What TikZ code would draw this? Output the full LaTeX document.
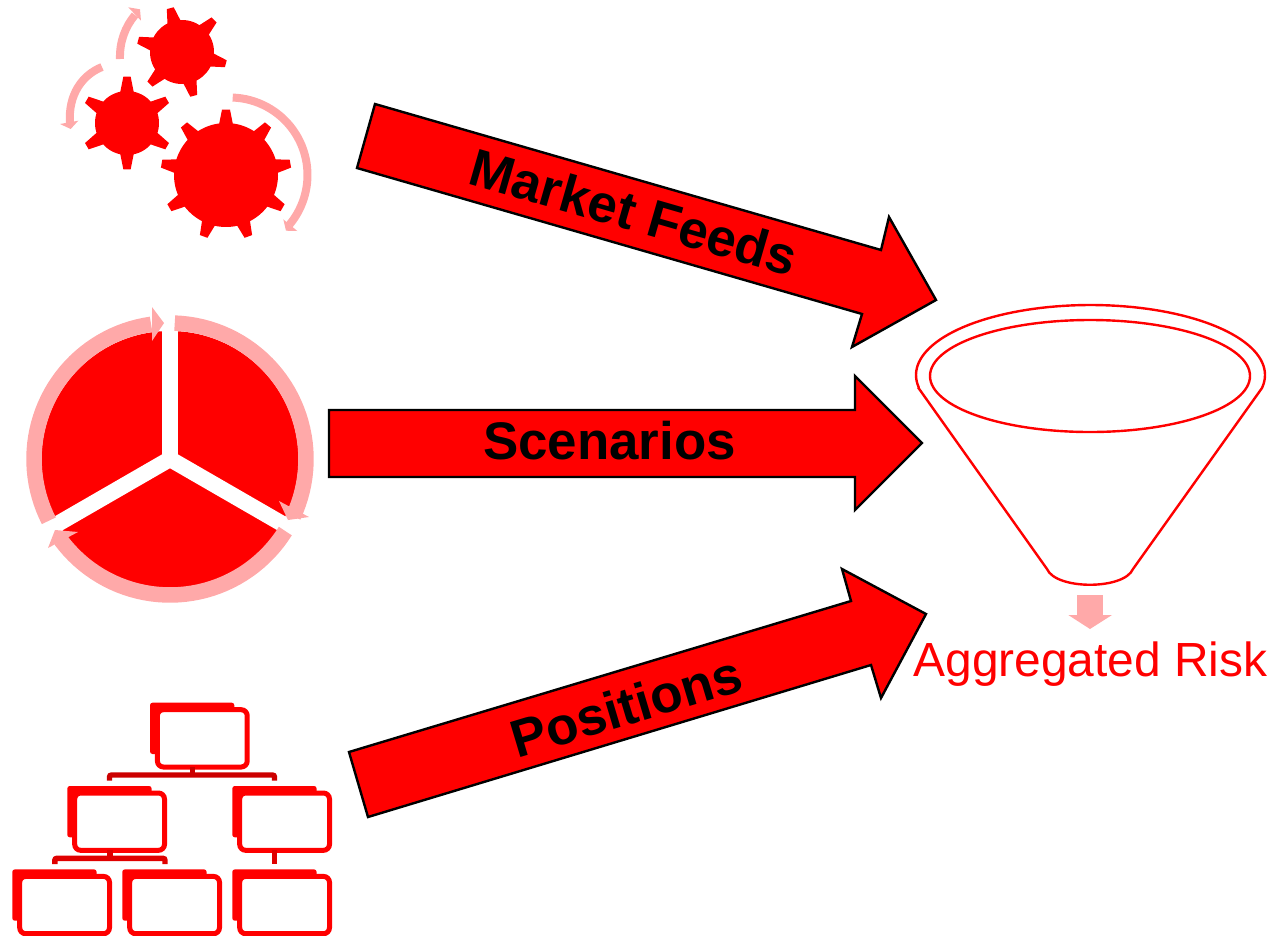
\documentclass[tikz,border=0pt]{standalone}
\usepackage{fontspec}
\setmainfont{Liberation Sans}
\definecolor{pale}{HTML}{FFA9A9}
\definecolor{darkred}{HTML}{CC0000}
\definecolor{midred}{HTML}{E00000}
\tikzset{
  blockarrow/.style={fill=red,draw=black,line width=2.4pt,miter limit=10},
  blocklabel/.style={font=\fontsize{52.9}{55}\selectfont\bfseries,text=black,inner sep=0pt},
  ringarc/.style={draw=pale,line width=15.5pt},
  thinarc/.style={draw=pale,line width=8pt},
  funnel/.style={draw=red,line width=2.4pt},
  frontbox/.style={draw=red,fill=white,line width=5pt,rounded corners=6pt,minimum width=89.8pt,minimum height=57.3pt,inner sep=0pt,anchor=north west,outer sep=0pt},
  backbox/.style={fill=red,rounded corners=2.5pt},
  orglink/.style={line width=5.4pt,rounded corners=2pt}
}
% cx cy R tip n phase basehalf tiphalf
\newcommand{\gearshape}[8]{%
  \fill[red] ({#1+#3*cos(#6-#7)},{#2+#3*sin(#6-#7)})
  \foreach \i [evaluate=\i as \t using #6+\i*360/#5] in {1,...,#5} {
    -- ({#1+#4*cos(\t-360/#5-#8)},{#2+#4*sin(\t-360/#5-#8)})
    -- ({#1+#4*cos(\t-360/#5+#8)},{#2+#4*sin(\t-360/#5+#8)})
    -- plot[domain=\t-360/#5+#7:\t-#7,samples=10] ({#1+#3*cos(\x)},{#2+#3*sin(\x)})
  } -- cycle;}
% name x y : offset org box
\newcommand{\orgbox}[3]{%
  \fill[backbox] (150+#2,702.7+#3) rectangle (234.3+#2,754+#3);
  \node[frontbox] (#1) at (157.4+#2,709.7+#3) {};}
\begin{document}
\begin{tikzpicture}[x=1pt,y=-1pt]
\useasboundingbox (0,0) rectangle (1288,935);
% gears
\gearshape{182}{52}{32}{45.5}{6}{-45}{12}{4.5}
\gearshape{127}{123}{32}{46.5}{6}{90}{12}{4.5}
\gearshape{226}{175}{52}{65.5}{9}{-90}{7.5}{3.5}
% gear arrows
\draw[thinarc] plot[domain=-88:40,samples=40] ({230+77.5*cos(\x)},{175+77.5*sin(\x)});
\fill[pale] (283.3,219.3) -- (297.3,231) -- (286,230.7) -- cycle;
\draw[thinarc] (120,59) .. controls (119.5,42) and (125,27) .. (135,15);
\fill[pale] (128.3,7.3) -- (140,9.3) -- (141,20.7) -- cycle;
\draw[thinarc] (102,67) .. controls (82,75) and (68,95) .. (70,123);
\fill[pale] (60,124) -- (78.3,120.7) -- (70.7,129) -- cycle;
% pie
\fill[red] (170,459.5) circle[radius=128.5];
\draw[white,line width=16pt] (170,459) -- (170,300);
\draw[white,line width=16pt] (170,459) -- ({170+160*cos(30)},{459+160*sin(30)});
\draw[white,line width=16pt] (170,459) -- ({170+160*cos(150)},{459+160*sin(150)});
\draw[ringarc] plot[domain=153:262,samples=40] ({170+136*cos(\x)},{459+136*sin(\x)});
\fill[pale] (152,307) -- (164,323) -- (152,341) -- cycle;
\draw[ringarc] plot[domain=272:385,samples=40] ({170+136*cos(\x)},{459+136*sin(\x)});
\fill[pale] (279,501) -- (309,517) -- (288,520) -- cycle;
\draw[ringarc] plot[domain=32:143.5,samples=40] ({170+136*cos(\x)},{459+136*sin(\x)});
\fill[pale] (55,530) -- (78,532) -- (48,548) -- cycle;
% org chart
\orgbox{ba}{0}{0}
\orgbox{bb}{-82.7}{83.3}
\orgbox{bc}{82.3}{83.3}
\orgbox{bd}{-137.7}{166.7}
\orgbox{be}{-27.7}{166.7}
\orgbox{bf}{82.3}{166.7}
\coordinate (la) at (109.5,780.7);
\coordinate (lb) at (274.5,780.7);
\coordinate (lc) at (54.8,864);
\coordinate (ld) at (165,864);
\coordinate (sa) at (192.3,775);
\coordinate (sb) at (110,858.3);
\coordinate (sc) at (274.7,864);
\draw[orglink,darkred] (la) |- (sa) -| (lb);
\draw[line width=5.6pt,darkred] (sa |- ba.south) -- (sa);
\draw[orglink,midred] (lc) |- (sb) -| (ld);
\draw[line width=5.6pt,midred] (sb |- bb.south) -- (sb);
\draw[line width=5.4pt,midred] (sc |- bc.south) -- (sc);
% block arrows
\draw[blockarrow] (375,104) -- (881,250) -- (889,217) -- (936,300) -- (852,347) -- (862,314) -- (357,168) -- cycle;
\draw[blockarrow] (329,410) -- (855,410) -- (855,376) -- (922,443) -- (855,510) -- (855,477) -- (329,477) -- cycle;
\draw[blockarrow] (349,752) -- (851,601) -- (842,569) -- (926,614) -- (881,698) -- (871,665) -- (368,817) -- cycle;
\node[blocklabel,rotate=-16.1] (mf) at (634,212) {Market Feeds};
\node[blocklabel] (scn) at (609.5,441) {Scenarios};
\node[blocklabel,rotate=16.7] (po) at (626,706) {Positions};
% funnel
\draw[funnel] (918.5,388) -- (1047,569) .. controls (1056,590) and (1124,590) .. (1133,569) -- (1262,388)
  -- plot[domain=10:-190,samples=80] ({1090.5+174.5*cos(\x)},{375+70*sin(\x)}) -- cycle;
\draw[funnel] (1090,376) ellipse[x radius=160,y radius=56];
\fill[pale] (1077.3,595) rectangle (1102.7,615);
\fill[pale] (1068.3,615) -- (1112,615) -- (1090,629) -- cycle;
\node[anchor=base,inner sep=0pt,text=red,font=\fontsize{47.9}{50}\selectfont] (ar) at (1090.5,676) {Aggregated Risk};
\end{tikzpicture}
\end{document}
